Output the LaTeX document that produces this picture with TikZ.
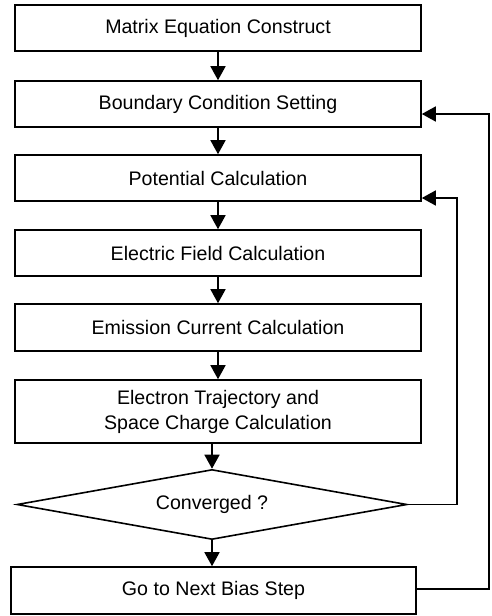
\documentclass[tikz,border=0pt]{standalone}
\usepackage{fontspec}
\setmainfont{Liberation Sans}
\usetikzlibrary{shapes.geometric,arrows.meta}
\begin{document}
\begin{tikzpicture}[x=1pt,y=-1pt,
  every node/.style={font=\fontsize{19.6}{25}\selectfont},
  stepbox/.style={draw,line width=1.6pt,minimum width=406pt,inner sep=0pt,align=center},
  decide/.style={draw,diamond,shape aspect=5.5,line width=1.6pt,minimum width=390pt,minimum height=70pt,inner sep=0pt},
  flow/.style={line width=1.6pt,-{Triangle[length=14pt,width=15pt]}},
  back/.style={line width=1.6pt,rounded corners=0pt,-{Triangle[length=14pt,width=15pt]}}]
\useasboundingbox (0,0) rectangle (491,616);
\node[stepbox,minimum height=46pt] (b1) at (218,28) {Matrix Equation Construct};
\node[stepbox,minimum height=46pt] (b2) at (218,104) {Boundary Condition Setting};
\node[stepbox,minimum height=46pt] (b3) at (218,178) {Potential Calculation};
\node[stepbox,minimum height=46pt] (b4) at (218,253) {Electric Field Calculation};
\node[stepbox,minimum height=47pt] (b5) at (218,327.5) {Emission Current Calculation};
\node[stepbox,minimum height=63pt] (b6) at (218,411.5) {Electron Trajectory and\\Space Charge Calculation};
\node[decide] (d) at (212,504.5) {Converged ?};
\node[stepbox,minimum width=405pt,minimum height=47pt] (b7) at (213.5,590.5) {Go to Next Bias Step};
\coordinate (o1) at (489,589);
\coordinate (o2) at (489,114);
\coordinate (i1) at (457,504.5);
\coordinate (i2) at (457,198);
\draw[flow] (b1.south) -- (b2.north);
\draw[flow] (b2.south) -- (b3.north);
\draw[flow] (b3.south) -- (b4.north);
\draw[flow] (b4.south) -- (b5.north);
\draw[flow] (b5.south) -- (b6.north);
\draw[flow] (b6.south -| d.north) -- (d.north);
\draw[flow] (d.south) -- (d.south |- b7.north);
\draw[back] (b7.east |- o1) -- (o1) -- (o2) -- (b2.east |- o2);
\draw[back] (d.east) -- (i1) -- (i2) -- (b3.east |- i2);
\end{tikzpicture}
\end{document}
